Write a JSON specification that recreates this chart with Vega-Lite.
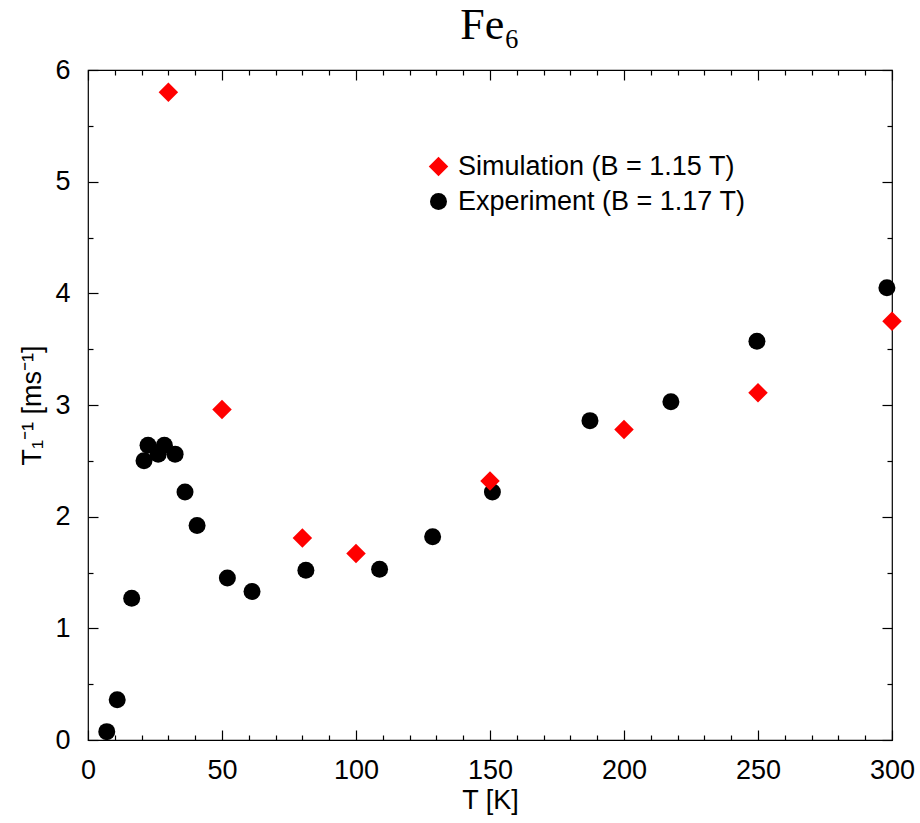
{
  "$schema": "https://vega.github.io/schema/vega-lite/v6.json",
  "width": 804,
  "height": 670,
  "autosize": {"type": "none"},
  "padding": {"left": 88, "top": 70, "right": 28, "bottom": 83},
  "background": "white",
  "title": {"text": "Fe₆", "font": "Liberation Serif", "fontSize": 44, "fontWeight": "normal", "color": "black", "anchor": "middle", "offset": 8},
  "config": {
    "view": {"stroke": "black", "strokeWidth": 1.2},
    "axis": {"grid": false, "domain": false, "labelFlush": false, "labelFont": "Liberation Sans", "labelFontSize": 27, "labelColor": "black", "titleFont": "Liberation Sans", "titleFontSize": 27, "titleFontWeight": "normal", "titleColor": "black", "tickColor": "black", "tickWidth": 1.2},
    "legend": {"orient": "none", "legendX": 337, "legendY": 83, "labelFont": "Liberation Sans", "labelFontSize": 27, "labelColor": "black", "labelLimit": 0, "rowPadding": 7, "labelOffset": 6, "symbolStrokeWidth": 0, "title": null}
  },
  "data": {"values": [
    {"T": 7.0, "R": 0.075, "series": "Experiment (B = 1.17 T)"},
    {"T": 10.9, "R": 0.36, "series": "Experiment (B = 1.17 T)"},
    {"T": 16.3, "R": 1.27, "series": "Experiment (B = 1.17 T)"},
    {"T": 20.9, "R": 2.50, "series": "Experiment (B = 1.17 T)"},
    {"T": 22.4, "R": 2.64, "series": "Experiment (B = 1.17 T)"},
    {"T": 26.2, "R": 2.56, "series": "Experiment (B = 1.17 T)"},
    {"T": 28.5, "R": 2.64, "series": "Experiment (B = 1.17 T)"},
    {"T": 32.5, "R": 2.56, "series": "Experiment (B = 1.17 T)"},
    {"T": 36.2, "R": 2.22, "series": "Experiment (B = 1.17 T)"},
    {"T": 40.7, "R": 1.92, "series": "Experiment (B = 1.17 T)"},
    {"T": 52.0, "R": 1.45, "series": "Experiment (B = 1.17 T)"},
    {"T": 61.2, "R": 1.33, "series": "Experiment (B = 1.17 T)"},
    {"T": 81.3, "R": 1.52, "series": "Experiment (B = 1.17 T)"},
    {"T": 108.8, "R": 1.53, "series": "Experiment (B = 1.17 T)"},
    {"T": 128.6, "R": 1.82, "series": "Experiment (B = 1.17 T)"},
    {"T": 150.9, "R": 2.22, "series": "Experiment (B = 1.17 T)"},
    {"T": 187.3, "R": 2.86, "series": "Experiment (B = 1.17 T)"},
    {"T": 217.5, "R": 3.03, "series": "Experiment (B = 1.17 T)"},
    {"T": 249.6, "R": 3.57, "series": "Experiment (B = 1.17 T)"},
    {"T": 298.1, "R": 4.05, "series": "Experiment (B = 1.17 T)"},
    {"T": 30, "R": 5.80, "series": "Simulation (B = 1.15 T)"},
    {"T": 50, "R": 2.96, "series": "Simulation (B = 1.15 T)"},
    {"T": 80, "R": 1.81, "series": "Simulation (B = 1.15 T)"},
    {"T": 100, "R": 1.67, "series": "Simulation (B = 1.15 T)"},
    {"T": 150, "R": 2.32, "series": "Simulation (B = 1.15 T)"},
    {"T": 200, "R": 2.78, "series": "Simulation (B = 1.15 T)"},
    {"T": 250, "R": 3.11, "series": "Simulation (B = 1.15 T)"},
    {"T": 300, "R": 3.75, "series": "Simulation (B = 1.15 T)"}
  ]},
  "layer": [
    {
      "mark": {"type": "point", "filled": true, "opacity": 1},
      "encoding": {
        "x": {"field": "T", "type": "quantitative", "scale": {"domain": [0, 300], "nice": false, "zero": false}, "axis": {"orient": "bottom", "values": [0, 50, 100, 150, 200, 250, 300], "tickSize": -10, "labelPadding": 27, "title": "T [K]", "titlePadding": 4}},
        "y": {"field": "R", "type": "quantitative", "scale": {"domain": [0, 6], "nice": false}, "axis": {"orient": "left", "values": [0, 1, 2, 3, 4, 5, 6], "tickSize": -10, "labelPadding": 28, "title": "T₁⁻¹  [ms⁻¹]", "titlePadding": 8}},
        "color": {"field": "series", "type": "nominal", "scale": {"domain": ["Simulation (B = 1.15 T)", "Experiment (B = 1.17 T)"], "range": ["#ff0000", "#000000"]}},
        "shape": {"field": "series", "type": "nominal", "scale": {"domain": ["Simulation (B = 1.15 T)", "Experiment (B = 1.17 T)"], "range": ["diamond", "circle"]}},
        "size": {"field": "series", "type": "nominal", "scale": {"domain": ["Simulation (B = 1.15 T)", "Experiment (B = 1.17 T)"], "range": [380, 289]}}
      }
    },
    {
      "mark": {"type": "point", "opacity": 0},
      "encoding": {
        "x": {"field": "T", "type": "quantitative", "scale": {"domain": [0, 300], "nice": false, "zero": false}, "axis": {"orient": "bottom", "values": [10, 20, 30, 40, 60, 70, 80, 90, 110, 120, 130, 140, 160, 170, 180, 190, 210, 220, 230, 240, 260, 270, 280, 290], "tickSize": -5, "labels": false, "title": null}},
        "y": {"field": "R", "type": "quantitative", "scale": {"domain": [0, 6], "nice": false}, "axis": {"orient": "left", "values": [0.5, 1.5, 2.5, 3.5, 4.5, 5.5], "tickSize": -5, "labels": false, "title": null}}
      }
    },
    {
      "mark": {"type": "point", "opacity": 0},
      "encoding": {
        "x": {"field": "T", "type": "quantitative", "scale": {"domain": [0, 300], "nice": false, "zero": false}, "axis": {"orient": "top", "values": [0, 50, 100, 150, 200, 250, 300], "tickSize": -10, "labels": false, "title": null}},
        "y": {"field": "R", "type": "quantitative", "scale": {"domain": [0, 6], "nice": false}, "axis": {"orient": "right", "values": [0, 1, 2, 3, 4, 5, 6], "tickSize": -10, "labels": false, "title": null}}
      }
    },
    {
      "mark": {"type": "point", "opacity": 0},
      "encoding": {
        "x": {"field": "T", "type": "quantitative", "scale": {"domain": [0, 300], "nice": false, "zero": false}, "axis": {"orient": "top", "values": [10, 20, 30, 40, 60, 70, 80, 90, 110, 120, 130, 140, 160, 170, 180, 190, 210, 220, 230, 240, 260, 270, 280, 290], "tickSize": -5, "labels": false, "title": null}},
        "y": {"field": "R", "type": "quantitative", "scale": {"domain": [0, 6], "nice": false}, "axis": {"orient": "right", "values": [0.5, 1.5, 2.5, 3.5, 4.5, 5.5], "tickSize": -5, "labels": false, "title": null}}
      }
    }
  ],
  "resolve": {"axis": {"x": "independent", "y": "independent"}}
}
